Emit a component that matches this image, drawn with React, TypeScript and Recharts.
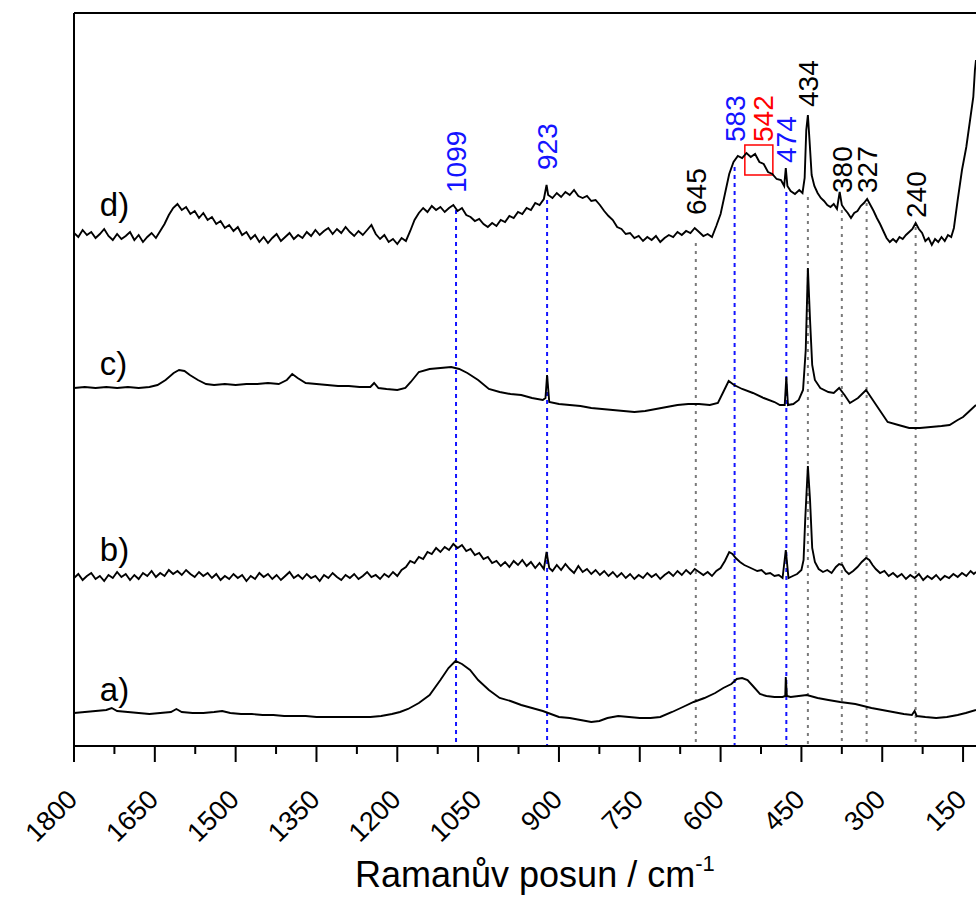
import React from 'react';
import { LineChart, Line, XAxis, YAxis, ReferenceLine, ReferenceDot, ReferenceArea } from 'recharts';

// Raman shift (cm-1) vs relative intensity (offset traces)
const spectrumA: [number, number][] = [
  [1800,33],[1780,34],[1760,35],[1740,36],[1730,38],[1720,35],[1700,34],[1680,33],[1660,32],[1640,33],[1620,34],[1610,37],[1600,34],
  [1580,33],[1560,33],[1540,34],[1525,35],[1510,33],[1490,32],[1470,32],[1450,31],[1430,31],[1410,30],[1390,30],[1370,30],[1350,29],
  [1330,29],[1310,29],[1290,29],[1270,29],[1250,29],[1230,30],[1210,32],[1195,34],[1180,37],[1160,43],[1140,51],[1120,66],[1105,78],
  [1092,85],[1080,82],[1065,76],[1050,66],[1030,56],[1010,48],[990,45],[970,41],[950,38],[930,35],[920,33],[900,29],[880,28],[860,26],
  [840,24],[825,25],[810,28],[790,30],[770,29],[750,28],[730,28],[712,29],[690,34],[670,39],[650,44],[630,48],[610,53],[595,58],[580,62],
  [570,67],[560,68],[550,66],[540,60],[527,52],[515,50],[500,49],[485,49],[480,50],[479,69],[477,50],[470,49],[455,50],[440,51],[420,48],
  [400,46],[378,44],[350,42],[320,38],[300,36],[280,34],[260,32],[245,31],[240,35],[236,30],[220,29],[200,28],[180,29],[160,31],[145,33],[126,36],
];

const spectrumB: [number, number][] = [
  [1800,168],[1792,172],[1784,166],[1776,170],[1768,173],[1760,167],[1752,170],[1744,165],[1736,171],[1728,168],[1720,174],[1712,169],
  [1704,172],[1696,166],[1688,171],[1680,167],[1672,173],[1664,170],[1656,175],[1648,169],[1640,173],[1632,170],[1624,176],[1616,172],
  [1608,175],[1600,171],[1592,176],[1584,172],[1576,169],[1568,174],[1560,170],[1552,173],[1544,168],[1536,172],[1528,166],[1520,170],
  [1512,167],[1504,172],[1496,168],[1488,171],[1480,165],[1472,170],[1464,167],[1456,173],[1448,169],[1440,172],[1432,167],[1424,171],
  [1416,166],[1408,170],[1400,174],[1392,168],[1384,171],[1376,167],[1368,172],[1360,168],[1352,170],[1344,165],[1336,171],[1328,168],
  [1320,173],[1312,169],[1304,166],[1296,171],[1288,168],[1280,172],[1272,167],[1264,170],[1256,174],[1248,169],[1240,171],[1232,167],
  [1224,172],[1216,169],[1208,174],[1200,170],[1192,176],[1184,179],[1176,185],[1168,183],[1160,189],[1152,187],[1144,194],[1136,192],
  [1128,198],[1120,194],[1112,199],[1104,196],[1096,202],[1088,198],[1080,201],[1072,195],[1064,197],[1056,191],[1048,193],[1040,187],
  [1032,189],[1024,183],[1016,185],[1008,180],[1000,184],[992,179],[984,185],[976,181],[968,186],[960,180],[952,184],[944,178],
  [936,183],[928,177],[923,194],[918,178],[912,175],[904,181],[896,176],[888,182],[880,177],[872,173],[864,180],[856,174],[848,177],
  [840,172],[832,176],[824,171],[816,175],[808,170],[800,174],[792,169],[784,173],[776,168],[768,172],[760,167],[752,171],[744,168],
  [736,173],[728,169],[720,172],[712,167],[704,171],[696,174],[688,170],[680,175],[672,171],[664,176],[656,172],[648,177],[640,174],
  [632,171],[624,174],[616,170],[608,175],[600,178],[592,185],[584,194],[578,192],[572,188],[564,184],[556,181],[548,179],[540,177],
  [532,175],[524,176],[516,172],[508,173],[500,170],[492,171],[485,168],[479,196],[474,168],[466,170],[458,172],[450,176],[446,186],
  [443,226],[438,280],[434,246],[430,198],[425,184],[418,177],[410,174],[402,176],[394,173],[386,179],[380,182],[374,181],[368,175],
  [362,172],[354,175],[346,179],[338,184],[330,188],[324,186],[318,181],[312,177],[304,173],[296,175],[288,170],[280,173],[272,169],
  [264,172],[256,167],[248,171],[240,168],[232,172],[224,166],[216,170],[208,167],[200,171],[192,166],[184,170],[176,168],[168,172],
  [160,169],[152,173],[144,170],[136,175],[130,172],[126,174],
];

const spectrumC: [number, number][] = [
  [1800,358],[1780,359],[1760,358],[1740,359],[1720,358],[1700,359],[1680,358],[1660,359],[1645,361],[1630,366],[1615,373],[1605,376],
  [1595,375],[1585,371],[1570,366],[1555,362],[1540,361],[1520,362],[1500,361],[1480,362],[1460,362],[1440,363],[1420,362],[1405,366],
  [1395,372],[1385,368],[1370,363],[1350,362],[1330,361],[1310,360],[1290,360],[1270,359],[1250,359],[1243,363],[1235,358],[1220,357],
  [1200,356],[1185,358],[1175,364],[1160,374],[1140,377],[1120,378],[1100,379],[1085,377],[1070,373],[1050,366],[1030,357],[1010,354],
  [990,352],[970,351],[950,348],[930,346],[925,348],[922,371],[918,344],[900,342],[880,341],[860,340],[840,338],[820,337],[800,336],
  [780,335],[760,334],[740,335],[720,337],[700,339],[680,341],[660,342],[640,342],[620,341],[605,343],[595,354],[585,365],[575,361],
  [560,357],[540,353],[520,348],[500,344],[490,341],[481,341],[478,369],[475,341],[465,342],[455,346],[447,356],[442,396],[438,478],
  [434,426],[430,381],[425,366],[415,358],[400,354],[390,353],[380,358],[370,351],[360,343],[345,348],[330,356],[320,348],[305,336],
  [290,324],[270,321],[250,318],[230,318],[210,319],[190,320],[175,321],[160,326],[150,329],[140,334],[126,341],
];

const spectrumD: [number, number][] = [
  [1800,513],[1792,509],[1784,516],[1776,511],[1768,514],[1760,508],[1752,512],[1744,517],[1736,510],[1728,506],[1720,512],[1712,507],
  [1704,510],[1696,514],[1688,506],[1680,511],[1672,504],[1664,509],[1656,513],[1648,508],[1640,515],[1632,522],[1624,531],[1616,538],
  [1608,542],[1600,536],[1592,539],[1584,532],[1576,535],[1568,528],[1560,533],[1552,526],[1544,529],[1536,522],[1528,525],[1520,518],
  [1512,521],[1504,515],[1496,519],[1488,511],[1480,514],[1472,507],[1464,511],[1456,504],[1448,509],[1440,503],[1432,508],[1424,512],
  [1416,505],[1408,509],[1400,513],[1392,507],[1384,511],[1376,508],[1368,514],[1360,510],[1352,516],[1344,511],[1336,515],[1328,518],
  [1320,512],[1312,517],[1304,513],[1296,519],[1288,514],[1280,510],[1272,515],[1264,511],[1256,516],[1248,521],[1240,512],[1232,507],
  [1224,511],[1216,504],[1208,507],[1200,502],[1192,508],[1184,505],[1176,515],[1168,526],[1160,533],[1152,538],[1144,534],[1136,540],
  [1128,536],[1120,539],[1112,534],[1104,538],[1096,541],[1088,535],[1080,538],[1072,531],[1064,529],[1056,525],[1048,527],[1040,522],
  [1032,519],[1024,523],[1016,520],[1008,526],[1000,524],[992,530],[984,528],[976,534],[968,532],[960,538],[952,536],[944,543],
  [936,541],[928,547],[923,561],[920,551],[912,548],[904,553],[896,549],[888,554],[880,551],[872,556],[864,550],[856,548],[848,550],
  [840,545],[832,546],[824,541],[816,535],[808,530],[800,526],[792,519],[784,517],[776,512],[768,513],[760,508],[752,510],[744,505],
  [736,509],[728,506],[720,510],[712,504],[704,508],[696,511],[688,509],[680,514],[672,511],[664,515],[656,513],[648,518],[640,514],
  [632,510],[624,512],[616,509],[608,520],[600,532],[592,552],[584,572],[576,584],[568,590],[560,588],[552,593],[544,589],[536,592],
  [528,584],[520,582],[512,574],[504,572],[496,567],[488,566],[482,560],[479,578],[476,560],[470,555],[462,552],[454,556],[448,553],
  [444,568],[441,616],[438,631],[435,606],[431,571],[426,560],[420,553],[414,548],[408,545],[402,541],[396,539],[390,542],[384,537],
  [379,554],[375,541],[370,537],[364,533],[358,528],[352,533],[346,535],[340,540],[334,543],[328,547],[322,541],[316,535],[310,528],
  [304,522],[298,515],[292,508],[286,504],[280,507],[274,504],[268,509],[262,507],[256,511],[250,514],[244,517],[238,523],[232,517],
  [226,513],[220,505],[214,508],[208,501],[202,507],[196,504],[190,509],[184,505],[178,511],[172,509],[167,518],[160,546],[152,576],
  [144,599],[137,626],[131,649],[128,676],[126,686],
];

// trace labels: text, anchor shift, intensity
const traceLabels = ['a)', 'b)', 'c)', 'd)'];
const traceLabelShift = [1752, 1752, 1752, 1752];
const traceLabelLevel = [45, 185, 371, 530];

// marked bands: label text, drawn position, line top, label base
const bluePeakText = ['1099', '923', '583', '474'];
const bluePeakPos = [1091, 922, 574, 478];
const bluePeakTop = [536, 546, 579, 554];
const bluePeakLabel = [553, 576, 604, 583];

const grayPeakText = ['645', '434', '380', '327', '240'];
const grayPeakPos = [646, 438, 375, 329, 238];
const grayPeakTop = [503, 549, 536, 543, 519];
const grayPeakLabel = [531, 639, 553, 553, 528];

const redPeakText = ['542'];
const redPeakPos = [521];
const redPeakLabel = [604];
const redBox = { x1: 555, x2: 503, y1: 571, y2: 601 };

const majorTicks = [1800, 1650, 1500, 1350, 1200, 1050, 900, 750, 600, 450, 300, 150];
const minorTicks = [1725, 1575, 1425, 1275, 1125, 975, 825, 675, 525, 375, 225];

const xTitle = 'Ramanův posun / cm';
const xTitleSup = '-1';
const yTitle = 'Relativní intenzita / -';

const FONT = '"Liberation Sans", Arial, Helvetica, sans-serif';
const BLUE = '#1414ff';
const GRAY = '#7a7a7a';

const toPts = (arr: [number, number][]) => arr.map(([w, v]) => ({ w, v }));

const AxisTick = (props: any) => {
  const { x, y, payload } = props;
  const major = majorTicks.includes(payload.value);
  const tx = x + 5;
  const ty = y + 55;
  return (
    <g>
      <line x1={x} y1={y} x2={x} y2={y + (major ? 16 : 8)} stroke="#000" strokeWidth={2} />
      {major && (
        <text x={tx} y={ty} transform={`rotate(-45, ${tx}, ${ty})`} textAnchor="end" fontSize={27} fontFamily={FONT} fill="#000">
          {payload.value}
        </text>
      )}
    </g>
  );
};

const vertLabel = (text: string, color: string) => (p: any) => {
  const ax = p.cx + 10;
  const ay = p.cy;
  return (
    <text x={ax} y={ay} transform={`rotate(-90, ${ax}, ${ay})`} textAnchor="start" fontSize={28} fontFamily={FONT} fill={color}>
      {text}
    </text>
  );
};

const traceLabel = (text: string) => (p: any) => (
  <text x={p.cx} y={p.cy} fontSize={33} fontFamily={FONT} fill="#000">{text}</text>
);

export default function App() {
  const series = [spectrumA, spectrumB, spectrumC, spectrumD];
  return (
    <div style={{ position: 'absolute', left: 0, top: 0, background: '#fff' }}>
      <LineChart width={976} height={897} margin={{ top: 13, right: 0, bottom: 0, left: 74 }}>
        <XAxis
          dataKey="w"
          type="number"
          domain={[126, 1800]}
          reversed
          allowDataOverflow
          ticks={[...majorTicks, ...minorTicks].sort((a, b) => b - a)}
          tick={<AxisTick />}
          tickLine={false}
          tickSize={0}
          tickMargin={0}
          interval={0}
          height={151}
          axisLine={{ stroke: '#000', strokeWidth: 2 }}
          label={{
            content: () => (
              <text x={355} y={887} fontSize={36} fontFamily={FONT} fill="#000">
                {xTitle}
                <tspan fontSize={22} dy={-16}>{xTitleSup}</tspan>
              </text>
            ),
          }}
        />
        <YAxis
          type="number"
          domain={[0, 733]}
          allowDataOverflow
          width={0}
          tick={false}
          tickLine={false}
          axisLine={false}
          label={{
            content: () => (
              <text x={43} y={388} transform="rotate(-90, 43, 388)" textAnchor="middle" fontSize={36} fontFamily={FONT} fill="#000">
                {yTitle}
              </text>
            ),
          }}
        />
        <ReferenceLine y={733} stroke="#000" strokeWidth={2} />
        <ReferenceLine x={1800} stroke="#000" strokeWidth={2} />
        {bluePeakPos.map((p, i) => (
          <ReferenceLine key={'bl' + i} segment={[{ x: p, y: bluePeakTop[i] }, { x: p, y: 0 }]} stroke={BLUE} strokeWidth={2} strokeDasharray="4 4" />
        ))}
        {grayPeakPos.map((p, i) => (
          <ReferenceLine key={'gl' + i} segment={[{ x: p, y: grayPeakTop[i] }, { x: p, y: 0 }]} stroke={GRAY} strokeWidth={2} strokeDasharray="3 5" />
        ))}
        {series.map((s, i) => (
          <Line key={'s' + i} data={toPts(s)} dataKey="v" type="linear" stroke="#000" strokeWidth={1.9} dot={false} isAnimationActive={false} />
        ))}
        <ReferenceArea x1={redBox.x1} x2={redBox.x2} y1={redBox.y1} y2={redBox.y2} fill="none" stroke="#ff0000" strokeWidth={1.5} ifOverflow="visible" />
        {bluePeakText.map((t, i) => (
          <ReferenceDot key={'bt' + i} x={bluePeakPos[i]} y={bluePeakLabel[i]} r={0} shape={vertLabel(t, BLUE)} />
        ))}
        {grayPeakText.map((t, i) => (
          <ReferenceDot key={'gt' + i} x={grayPeakPos[i]} y={grayPeakLabel[i]} r={0} shape={vertLabel(t, '#000')} />
        ))}
        {redPeakText.map((t, i) => (
          <ReferenceDot key={'rt' + i} x={redPeakPos[i]} y={redPeakLabel[i]} r={0} shape={vertLabel(t, '#ff0000')} />
        ))}
        {traceLabels.map((t, i) => (
          <ReferenceDot key={'tl' + i} x={traceLabelShift[i]} y={traceLabelLevel[i]} r={0} shape={traceLabel(t)} />
        ))}
      </LineChart>
    </div>
  );
}
